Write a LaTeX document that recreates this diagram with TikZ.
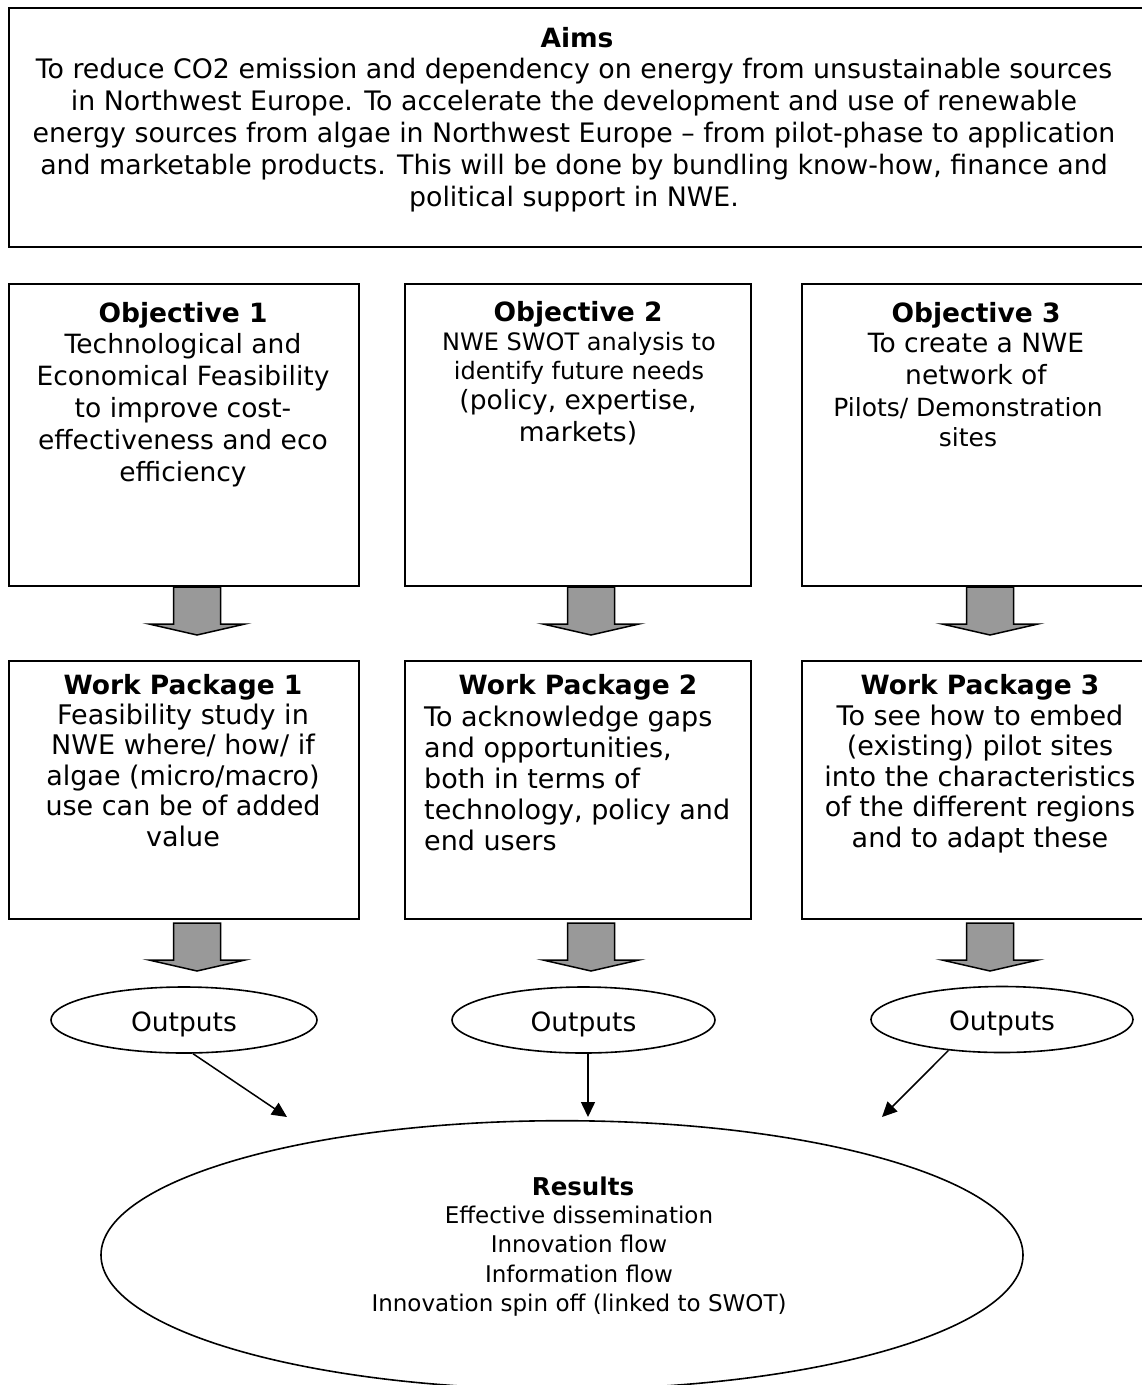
\documentclass[tikz,border=0pt]{standalone}
\usepackage{fontspec}
\setmainfont{DejaVu Sans}
\usetikzlibrary{shapes.geometric,arrows.meta,calc}
\definecolor{arrowgray}{RGB}{153,153,153}
\begin{document}
\begin{tikzpicture}[x=1pt,y=-1pt,
  boxst/.style={draw,line width=2pt,rectangle,inner sep=0pt,anchor=north west},
  titlest/.style={inner sep=0pt,anchor=base,font=\fontsize{26.5}{32}\selectfont\bfseries},
  bodyst/.style={inner sep=0pt,anchor=north,align=center,font=\fontsize{26.5}{32}\selectfont},
  wpbody/.style={inner sep=0pt,anchor=north,align=center,font=\fontsize{27}{30.5}\selectfont},
  smallbody/.style={inner sep=0pt,anchor=north,align=center,font=\fontsize{24}{29}\selectfont},
  outst/.style={draw,ellipse,line width=1.6pt,inner sep=0pt,minimum height=66pt,
    text height=22pt,text depth=0pt,font=\fontsize{26.5}{32}\selectfont},
  conn/.style={line width=1.5pt,-{Triangle[length=15pt,width=14pt]}},
  barrow/.pic={\filldraw[fill=arrowgray,draw=black,line width=1.5pt,line join=miter]
    (-23.5,0) -- (-23.5,37) -- (-48,37) -- (0,48) -- (48,37) -- (23.5,37) -- (23.5,0) -- cycle;}
]
\useasboundingbox (0,0) rectangle (1142,1385);

% Aims
\node[boxst,minimum width=1144pt,minimum height=239pt] (aims) at (8,7) {};
\node[titlest] (aimsh) at (577,47.5) {Aims};
\node[bodyst,font=\fontsize{26.8}{32}\selectfont] (aimsb) at (574,57.5) {To reduce CO2 emission and dependency on energy from unsustainable sources\\
in Northwest Europe. To accelerate the development and use of renewable\\
energy sources from algae in Northwest Europe – from pilot-phase to application\\
and marketable products. This will be done by bundling know-how, finance and\\
political support in NWE.};

% Objectives
\node[boxst,minimum width=350pt,minimum height=302pt] (obj1) at (8,283) {};
\node[boxst,minimum width=346pt,minimum height=302pt] (obj2) at (404,283) {};
\node[boxst,minimum width=350pt,minimum height=302pt] (obj3) at (801,283) {};

\node[titlest] (obj1h) at (183,322) {Objective 1};
\node[bodyst] (obj1b) at (183,332.9) {Technological and\\Economical Feasibility\\to improve cost-\\effectiveness and eco\\efficiency};

\node[titlest] (obj2h) at (578,321.5) {Objective 2};
\node[smallbody] (obj2b) at (579,332.5) {NWE SWOT analysis to\\identify future needs};
\node[bodyst] (obj2c) at (578,389.4) {(policy, expertise,\\markets)};

\node[titlest] (obj3h) at (976,322) {Objective 3};
\node[bodyst] (obj3b) at (976,333.4) {To create a NWE\\network of};
\node[smallbody,font=\fontsize{25}{29.5}\selectfont] (obj3c) at (968,397.5) {Pilots/ Demonstration\\sites};

% Work packages
\node[boxst,minimum width=350pt,minimum height=258pt] (wp1) at (8,660) {};
\node[boxst,minimum width=346pt,minimum height=258pt] (wp2) at (404,660) {};
\node[boxst,minimum width=350pt,minimum height=258pt] (wp3) at (801,660) {};

\node[titlest] (wp1h) at (183,694) {Work Package 1};
\node[wpbody] (wp1b) at (183,703.5) {Feasibility study in\\NWE where/ how/ if\\algae (micro/macro)\\use can be of added\\value};

\node[titlest] (wp2h) at (578,694) {Work Package 2};
\node[inner sep=0pt,anchor=north west,align=left,font=\fontsize{27}{31}\selectfont] (wp2b) at (424,705.5) {To acknowledge gaps\\and opportunities,\\both in terms of\\technology, policy and\\end users};

\node[titlest] (wp3h) at (980,694) {Work Package 3};
\node[wpbody] (wp3b) at (980,704.5) {To see how to embed\\(existing) pilot sites\\into the characteristics\\of the different regions\\and to adapt these};

% Block arrows
\pic at ($(obj1.south)+(13,0)$) {barrow};
\pic at ($(obj2.south)+(13,0)$) {barrow};
\pic at ($(obj3.south)+(13,0)$) {barrow};
\pic at ($(wp1.south)+(13,3)$) {barrow};
\pic at ($(wp2.south)+(13,3)$) {barrow};
\pic at ($(wp3.south)+(13,3)$) {barrow};

% Outputs
\node[outst,minimum width=266pt] (out1) at (184,1020) {Outputs};
\node[outst,minimum width=263pt] (out2) at (583.5,1020) {Outputs};
\node[outst,minimum width=262pt] (out3) at (1002,1019.5) {Outputs};

% Results
\node[draw,ellipse,line width=1.6pt,inner sep=0pt,minimum width=922pt,minimum height=268.6pt] (res) at (562,1255) {};
\node[inner sep=0pt,anchor=base,font=\fontsize{24.5}{29.3}\selectfont\bfseries] (resh) at (583,1195) {Results};
\node[inner sep=0pt,anchor=north,align=center,font=\fontsize{23}{29.3}\selectfont] (resb) at (579,1205.8) {Effective dissemination\\Innovation flow\\Information flow\\Innovation spin off (linked to SWOT)};

% Connectors
\coordinate (t1) at (287,1117);
\coordinate (t2) at (588,1117);
\coordinate (t3) at (882,1117);
\draw[conn] (out1.-75) -- (t1);
\draw[conn] (out2.south -| t2) -- (t2);
\draw[conn] (out3.-150) -- (t3);
\end{tikzpicture}
\end{document}
